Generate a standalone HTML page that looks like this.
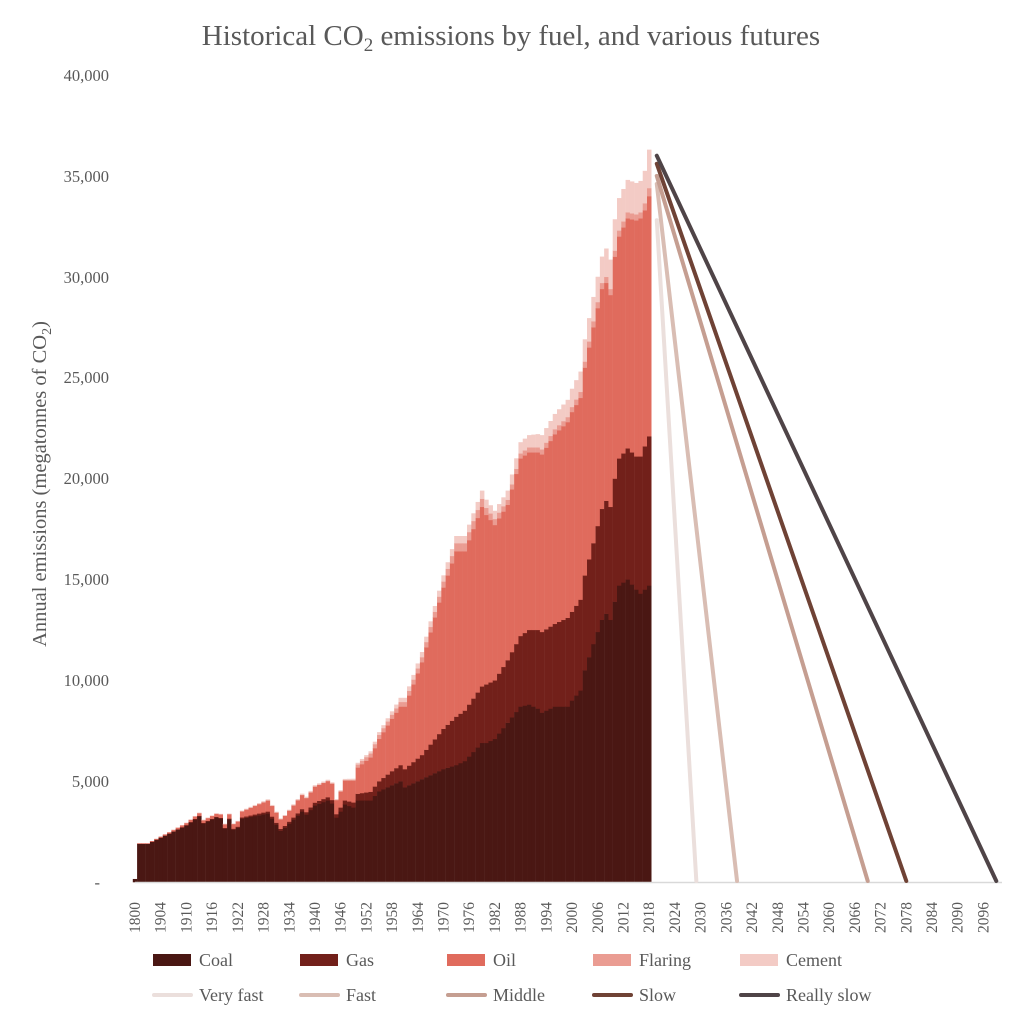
<!DOCTYPE html>
<html><head><meta charset="utf-8"><style>
body{margin:0;background:#fff;}
svg text{font-family:"Liberation Serif",serif;fill:#595959;}
</style></head><body>
<svg id="s" width="1023" height="1022" xmlns="http://www.w3.org/2000/svg">
<text x="511" y="45" font-size="29" text-anchor="middle">Historical CO<tspan font-size="19" dy="6">2</tspan><tspan dy="-6"> emissions by fuel, and various futures</tspan></text>
<g font-size="16.5" text-anchor="end">
<text x="109" y="81">40,000</text>
<text x="109" y="182">35,000</text>
<text x="109" y="283">30,000</text>
<text x="109" y="383">25,000</text>
<text x="109" y="484">20,000</text>
<text x="109" y="585">15,000</text>
<text x="109" y="686">10,000</text>
<text x="109" y="787">5,000</text>
<text x="100" y="888">-</text>
</g>
<text transform="translate(46,484) rotate(-90)" font-size="20.5" text-anchor="middle">Annual emissions (megatonnes of CO<tspan font-size="14" dy="5">2</tspan><tspan dy="-5">)</tspan></text>
<g id="bars"></g>
<line x1="135" y1="882.5" x2="1002" y2="882.5" stroke="#d9d9d9" stroke-width="1.5"/>
<g id="lines" stroke-linecap="round" fill="none" stroke-width="4"></g>
<g id="xl" font-size="15.5"></g>
<g font-size="18">
<rect x="153" y="954" width="38" height="12" fill="#4a1713"/><text x="199" y="966">Coal</text>
<rect x="300" y="954" width="38" height="12" fill="#72201a"/><text x="346" y="966">Gas</text>
<rect x="447" y="954" width="38" height="12" fill="#e06b5d"/><text x="493" y="966">Oil</text>
<rect x="593" y="954" width="38" height="12" fill="#ea9c92"/><text x="639" y="966">Flaring</text>
<rect x="740" y="954" width="38" height="12" fill="#f3cbc5"/><text x="786" y="966">Cement</text>
<g stroke-width="4" stroke-linecap="round">
<line x1="154" y1="995" x2="191" y2="995" stroke="#ebdfdc"/>
<line x1="301" y1="995" x2="338" y2="995" stroke="#d9bdb3"/>
<line x1="448" y1="995" x2="485" y2="995" stroke="#c59e91"/>
<line x1="594" y1="995" x2="631" y2="995" stroke="#6f4235"/>
<line x1="741" y1="995" x2="778" y2="995" stroke="#4f4447"/>
</g>
<text x="199" y="1001">Very fast</text><text x="346" y="1001">Fast</text><text x="493" y="1001">Middle</text><text x="639" y="1001">Slow</text><text x="786" y="1001">Really slow</text>
</g>
</svg>
<script>
var K=[[1899,1900,0,20,0,0],[1901,1900,0,20,0,0],[1905,2300,10,50,0,0],[1910,2800,30,100,0,10],[1913,3250,40,130,0,20],[1914,2900,40,130,0,20],[1917,3200,40,150,0,20],[1918,3150,40,170,0,20],[1919,2650,40,180,0,20],[1920,3100,50,220,0,20],[1921,2600,50,230,0,20],[1922,2700,50,260,0,20],[1923,3150,60,300,0,30],[1929,3400,100,550,0,50],[1930,3150,100,530,0,40],[1932,2550,90,480,0,30],[1933,2700,90,500,0,30],[1937,3500,120,700,0,60],[1938,3350,120,700,0,60],[1940,3800,140,800,0,60],[1943,4050,160,800,0,60],[1944,3900,170,820,0,50],[1945,3200,170,700,0,40],[1946,3500,200,800,0,50],[1947,3850,200,1000,0,60],[1949,3700,250,1100,0,70],[1950,4050,330,1300,150,80],[1953,4050,430,1700,200,100],[1955,4500,500,2100,200,130],[1958,4800,700,2600,200,160],[1960,5000,800,2900,230,200],[1961,4700,900,3100,230,200],[1965,5100,1200,4600,250,250],[1970,5600,2000,7000,300,300],[1973,5800,2400,8200,400,350],[1975,6000,2500,7900,400,350],[1979,6900,2800,8900,400,400],[1980,6900,2900,8400,350,400],[1982,7100,2900,7700,300,400],[1985,7900,3100,7700,250,450],[1988,8700,3500,8800,250,550],[1990,8800,3700,8800,250,600],[1992,8600,3900,8800,250,650],[1993,8400,4000,8800,250,700],[1996,8700,4100,9400,250,750],[1999,8700,4400,9700,250,850],[2000,9000,4400,9900,250,900],[2002,9500,4500,10000,300,1000],[2003,10500,4700,10300,300,1100],[2005,11800,5000,10700,300,1200],[2007,13000,5500,10900,300,1300],[2008,13300,5600,10800,300,1400],[2009,13000,5600,10500,300,1450],[2010,13900,6100,11000,300,1550],[2011,14700,6300,11000,300,1600],[2013,15000,6500,11400,300,1600],[2015,14500,6600,11700,300,1550],[2016,14300,6800,11800,300,1550],[2017,14500,7100,11700,350,1600],[2018,14700,7400,11900,400,1900]];
var C=["#4a1713","#72201a","#e06b5d","#ea9c92","#f3cbc5"];
function X(i){return 135+4.285*i;}function Y(v){return 882-v*0.020175;}
var h="";
function bar(i,v){var b=0;for(var k=0;k<5;k++){if(v[k]<=0)continue;var y0=Y(b),y1=Y(b+v[k]);h+='<rect x="'+(X(i)-2.2).toFixed(2)+'" y="'+y1.toFixed(2)+'" width="4.5" height="'+(y0-y1+0.3).toFixed(2)+'" fill="'+C[k]+'"/>';b+=v[k];}}
bar(0,[150,0,0,0,0]);
for(var yr=1899;yr<=2018;yr++){var a,bk;for(var j=0;j<K.length-1;j++){if(K[j][0]<=yr&&K[j+1][0]>=yr){a=K[j];bk=K[j+1];break;}}
var t=(bk[0]==a[0])?0:(yr-a[0])/(bk[0]-a[0]);var v=[];for(var k=1;k<6;k++)v.push(a[k]+(bk[k]-a[k])*t);bar(yr-1898,v);}
document.getElementById("bars").innerHTML=h;
var L=[[32800,2029,"#ebdfdc"],[34600,2038.5,"#d9bdb3"],[35000,2069,"#c59e91"],[35600,2078,"#6f4235"],[36000,2099,"#4f4447"]];
var l="";L.forEach(function(q){var x0=X(2020-1898)-1,x1=X(q[1]-1898);l+='<line x1="'+x0+'" y1="'+Y(q[0])+'" x2="'+x1+'" y2="881" stroke="'+q[2]+'"/>';});
document.getElementById("lines").innerHTML=l;
var s="";var labs=["1800"];for(var y=1904;y<=2096;y+=6)labs.push(""+y);
labs.forEach(function(t,n){var x=X(n*6)+5;s+='<text transform="translate('+x.toFixed(1)+',933) rotate(-90)">'+t+'</text>';});
document.getElementById("xl").innerHTML=s;
</script>
</body></html>
